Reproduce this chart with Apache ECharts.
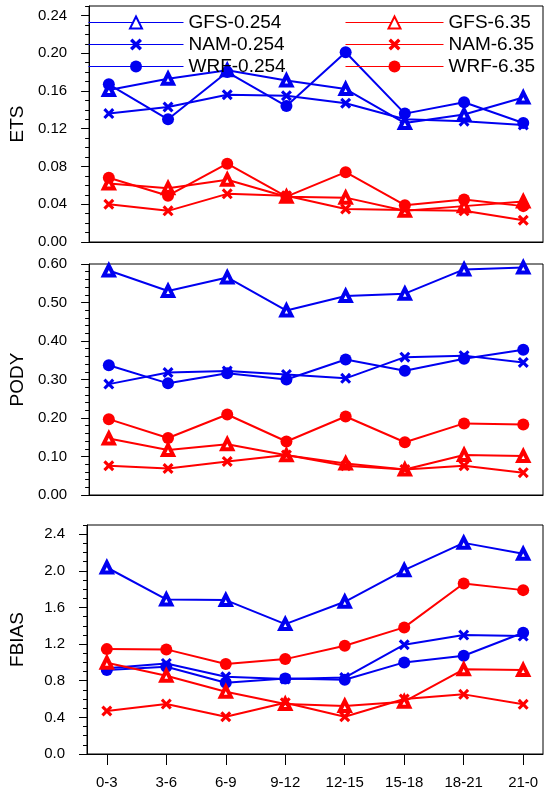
<!DOCTYPE html>
<html>
<head>
<meta charset="utf-8">
<script src="https://cdn.jsdelivr.net/npm/echarts@6/dist/echarts.min.js"></script>
<style>
  html, body { margin: 0; padding: 0; background: #fff; }
  #main { width: 549px; height: 796px; }
</style>
</head>
<body>
<div id="main"></div>
<script>
// time windows (UTC hours)
const categories = ['0-3', '3-6', '6-9', '9-12', '12-15', '15-18', '18-21', '21-0'];

// ETS
const etsGfsLow = [0.161, 0.173, 0.182, 0.171, 0.162, 0.126, 0.135, 0.153];
const etsNamLow = [0.136, 0.143, 0.156, 0.155, 0.147, 0.130, 0.128, 0.124];
const etsWrfLow = [0.167, 0.130, 0.180, 0.144, 0.201, 0.136, 0.148, 0.126];
const etsGfsHigh = [0.062, 0.057, 0.066, 0.048, 0.047, 0.033, 0.038, 0.043];
const etsNamHigh = [0.040, 0.033, 0.051, 0.049, 0.035, 0.034, 0.033, 0.023];
const etsWrfHigh = [0.068, 0.049, 0.083, 0.048, 0.074, 0.039, 0.045, 0.038];

// PODY
const podyGfsLow = [0.583, 0.530, 0.565, 0.479, 0.517, 0.523, 0.586, 0.591];
const podyNamLow = [0.288, 0.318, 0.322, 0.313, 0.303, 0.358, 0.362, 0.344];
const podyWrfLow = [0.337, 0.290, 0.316, 0.300, 0.352, 0.323, 0.354, 0.377];
const podyGfsHigh = [0.147, 0.117, 0.132, 0.103, 0.082, 0.066, 0.104, 0.101];
const podyNamHigh = [0.076, 0.069, 0.087, 0.104, 0.076, 0.066, 0.076, 0.058];
const podyWrfHigh = [0.197, 0.148, 0.209, 0.139, 0.204, 0.137, 0.186, 0.183];

// FBIAS
const fbiasGfsLow = [2.036, 1.687, 1.680, 1.418, 1.662, 2.007, 2.305, 2.185];
const fbiasNamLow = [0.935, 0.989, 0.844, 0.818, 0.835, 1.193, 1.298, 1.287];
const fbiasWrfLow = [0.916, 0.953, 0.778, 0.825, 0.810, 1.000, 1.073, 1.324];
const fbiasGfsHigh = [0.996, 0.855, 0.680, 0.545, 0.524, 0.571, 0.924, 0.916];
const fbiasNamHigh = [0.469, 0.545, 0.407, 0.560, 0.407, 0.600, 0.651, 0.542];
const fbiasWrfHigh = [1.145, 1.142, 0.982, 1.036, 1.182, 1.382, 1.862, 1.789];

// tick labels
const etsTicks = [0, 0.04, 0.08, 0.12, 0.16, 0.20, 0.24];
const podyTicks = [0, 0.1, 0.2, 0.3, 0.4, 0.5, 0.6];
const fbiasTicks = [0, 0.4, 0.8, 1.2, 1.6, 2.0, 2.4];

const FONT = 'Liberation Sans';
const BLUE = '#0000f0';
const RED = '#ff0000';
const CROSS = 'path://M0,2L2,0L5,3L8,0L10,2L7,5L10,8L8,10L5,7L2,10L0,8L3,5Z';

const grids = [
  { left: 85, right: 6, top: 6, height: 236 },
  { left: 85, right: 6, top: 264, height: 231 },
  { left: 85, right: 6, top: 525, height: 229 }
];

function markerFor(model, color) {
  if (model === 'GFS') {
    return { symbol: 'triangle', symbolSize: 10,
      itemStyle: { color: '#fff', borderColor: color, borderWidth: 4 } };
  }
  if (model === 'NAM') {
    return { symbol: CROSS, symbolSize: 11, itemStyle: { color: color } };
  }
  return { symbol: 'circle', symbolSize: 12, itemStyle: { color: color } };
}

function makeSeries(name, model, color, values, gridIdx) {
  const m = markerFor(model, color);
  return {
    type: 'line',
    name: name,
    xAxisIndex: gridIdx,
    yAxisIndex: gridIdx * 2,
    data: values.map((v, i) => [i, v]),
    symbol: m.symbol,
    symbolSize: m.symbolSize,
    itemStyle: m.itemStyle,
    lineStyle: { color: color, width: 2 },
    animation: false
  };
}

function xAxisFor(gridIdx, withLabels) {
  const idx = categories.map((c, i) => i);
  return {
    type: 'value',
    gridIndex: gridIdx,
    min: -1 / 3,
    max: categories.length - 1 + 1 / 3,
    splitLine: { show: false },
    axisLine: { show: true, onZero: false, lineStyle: { color: '#000', width: 1 } },
    axisTick: { show: withLabels, customValues: idx, length: 11, lineStyle: { color: '#000' } },
    axisLabel: {
      show: withLabels, customValues: idx, margin: 21,
      fontSize: 15, fontFamily: FONT, color: '#000',
      formatter: v => categories[Math.round(v)]
    }
  };
}

function yAxesFor(gridIdx, name, max, ticks, minor, digits) {
  return [{
    type: 'value',
    gridIndex: gridIdx,
    position: 'left',
    min: 0,
    max: max,
    name: name,
    nameLocation: 'middle',
    nameGap: 60,
    nameTextStyle: { fontSize: 19, fontFamily: FONT, color: '#000' },
    splitLine: { show: false },
    axisLine: { show: true, onZero: false, lineStyle: { color: '#000', width: 1 } },
    axisTick: { customValues: ticks, length: 8, lineStyle: { color: '#000' } },
    axisLabel: {
      customValues: ticks, margin: 22,
      fontSize: 15, fontFamily: FONT, color: '#000',
      formatter: v => v.toFixed(digits)
    }
  }, {
    type: 'value',
    gridIndex: gridIdx,
    position: 'left',
    min: 0,
    max: max,
    interval: minor,
    splitLine: { show: false },
    axisLine: { show: false, onZero: false },
    axisTick: { show: true, length: 4, lineStyle: { color: '#000' } },
    axisLabel: { show: false }
  }];
}

var myChart = echarts.init(document.getElementById('main'), null, { renderer: 'canvas' });

const legendBase = {
  orient: 'vertical',
  top: 13,
  padding: 0,
  itemHeight: 15,
  itemGap: 3,
  selectedMode: false,
  lineStyle: { width: 1 },
  textStyle: { fontSize: 19, fontFamily: FONT, color: '#000', lineHeight: 19 }
};

var option = {
  backgroundColor: '#fff',
  animation: false,
  grid: grids.map(g => Object.assign({ show: true, borderColor: '#000', borderWidth: 1, backgroundColor: 'transparent' }, g)),
  legend: [
    Object.assign({}, legendBase, { left: 88, itemWidth: 95, data: ['GFS-0.254', 'NAM-0.254', 'WRF-0.254'] }),
    Object.assign({}, legendBase, { left: 345, itemWidth: 98, data: ['GFS-6.35', 'NAM-6.35', 'WRF-6.35'] })
  ],
  xAxis: [xAxisFor(0, false), xAxisFor(1, false), xAxisFor(2, true)],
  yAxis: []
    .concat(yAxesFor(0, 'ETS', 0.25, etsTicks, 0.01, 2))
    .concat(yAxesFor(1, 'PODY', 0.6, podyTicks, 0.02, 2))
    .concat(yAxesFor(2, 'FBIAS', 2.5, fbiasTicks, 0.1, 1)),
  series: [
    makeSeries('GFS-0.254', 'GFS', BLUE, etsGfsLow, 0),
    makeSeries('NAM-0.254', 'NAM', BLUE, etsNamLow, 0),
    makeSeries('WRF-0.254', 'WRF', BLUE, etsWrfLow, 0),
    makeSeries('GFS-6.35', 'GFS', RED, etsGfsHigh, 0),
    makeSeries('NAM-6.35', 'NAM', RED, etsNamHigh, 0),
    makeSeries('WRF-6.35', 'WRF', RED, etsWrfHigh, 0),

    makeSeries('GFS-0.254', 'GFS', BLUE, podyGfsLow, 1),
    makeSeries('NAM-0.254', 'NAM', BLUE, podyNamLow, 1),
    makeSeries('WRF-0.254', 'WRF', BLUE, podyWrfLow, 1),
    makeSeries('GFS-6.35', 'GFS', RED, podyGfsHigh, 1),
    makeSeries('NAM-6.35', 'NAM', RED, podyNamHigh, 1),
    makeSeries('WRF-6.35', 'WRF', RED, podyWrfHigh, 1),

    makeSeries('GFS-0.254', 'GFS', BLUE, fbiasGfsLow, 2),
    makeSeries('NAM-0.254', 'NAM', BLUE, fbiasNamLow, 2),
    makeSeries('WRF-0.254', 'WRF', BLUE, fbiasWrfLow, 2),
    makeSeries('GFS-6.35', 'GFS', RED, fbiasGfsHigh, 2),
    makeSeries('NAM-6.35', 'NAM', RED, fbiasNamHigh, 2),
    makeSeries('WRF-6.35', 'WRF', RED, fbiasWrfHigh, 2)
  ]
};

myChart.setOption(option);
</script>
</body>
</html>
